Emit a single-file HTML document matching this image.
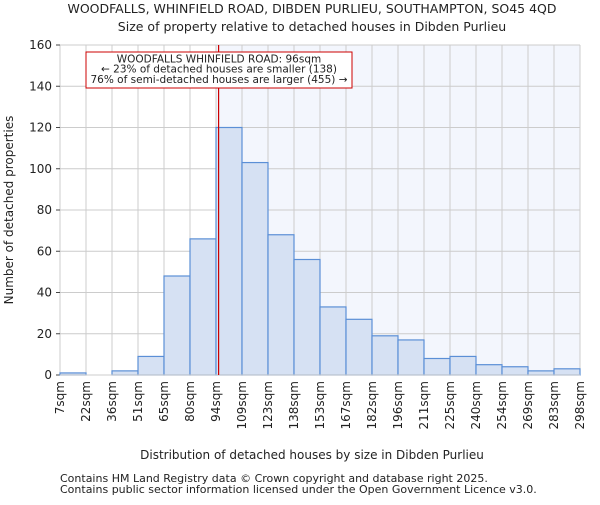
<!DOCTYPE html>
<html><head><meta charset="utf-8"><style>
body{margin:0;background:#fff;}
svg text{font-family:"DejaVu Sans","Liberation Sans",sans-serif;fill:#222;}
</style></head><body>
<svg id="chart" width="600" height="500">
<text x="312" y="13" font-size="12.5" text-anchor="middle">WOODFALLS, WHINFIELD ROAD, DIBDEN PURLIEU, SOUTHAMPTON, SO45 4QD</text>
<text x="312" y="31" font-size="12.5" text-anchor="middle">Size of property relative to detached houses in Dibden Purlieu</text>
<g id="plot"></g>
<text x="312" y="459" font-size="12" text-anchor="middle">Distribution of detached houses by size in Dibden Purlieu</text>
<text transform="translate(13,210) rotate(-90)" font-size="12" text-anchor="middle">Number of detached properties</text>
<text x="60" y="482" font-size="11" fill="#444">Contains HM Land Registry data © Crown copyright and database right 2025.</text>
<text x="60" y="493" font-size="11" fill="#444">Contains public sector information licensed under the Open Government Licence v3.0.</text>
</svg>
<script>
const binLabels=["7sqm","22sqm","36sqm","51sqm","65sqm","80sqm","94sqm","109sqm","123sqm","138sqm","153sqm","167sqm","182sqm","196sqm","211sqm","225sqm","240sqm","254sqm","269sqm","283sqm","298sqm"];
const counts=[1,0,2,9,48,66,120,103,68,56,33,27,19,17,8,9,5,4,2,3];
const yTicks=[0,20,40,60,80,100,120,140,160];
const subjectBin=6.1;
const highlightFrom=6;

const NS="http://www.w3.org/2000/svg";
const g=document.getElementById('plot');
const L=60,R=580,T=45,B=375,yMax=160;
const bw=(R-L)/counts.length;
const x=i=>L+i*bw;
const y=v=>B-(v/yMax)*(B-T);
function mk(tag,attrs){const e=document.createElementNS(NS,tag);for(const k in attrs)e.setAttribute(k,attrs[k]);g.appendChild(e);return e;}

let hl=mk('rect',{x:x(highlightFrom),y:T,width:R-x(highlightFrom),height:B-T,fill:'#f3f6fd'});


for(let i=0;i<=counts.length;i++){
  const l=mk('line',{x1:x(i),x2:x(i),y1:T,y2:B,stroke:'#cccccc','stroke-width':1});
  
  
}
yTicks.forEach(v=>{
  const l=mk('line',{x1:L,x2:R,y1:y(v),y2:y(v),stroke:'#cccccc','stroke-width':1});
  
  
  const tk=mk('line',{x1:L-4,x2:L,y1:y(v),y2:y(v),stroke:'#444'});
  
  
  const t=mk('text',{x:L-8,y:y(v)+4,'font-size':12,'text-anchor':'end'});
  t.textContent=v;
  
  
});
counts.forEach((c,i)=>{
  if(c<=0)return;
  const r=mk('rect',{x:x(i),y:y(c),width:bw,height:B-y(c),fill:'#d6e1f3',stroke:'#5b8fd6','stroke-width':1.2});
  
  
});
binLabels.forEach((lab,i)=>{
  const t=mk('text',{transform:`translate(${x(i)+4},381) rotate(-90)`,'font-size':12,'text-anchor':'end'});
  t.textContent=lab;
  
  
});
const ax=mk('line',{x1:L,x2:R,y1:B,y2:B,stroke:'#cccccc'});


const rl=mk('line',{x1:x(subjectBin),x2:x(subjectBin),y1:T,y2:B,stroke:'#cc0000','stroke-width':1.2});


const box=mk('rect',{x:86,y:52,width:266,height:36,fill:'#fff',stroke:'#cc0000','stroke-width':1});


["WOODFALLS WHINFIELD ROAD: 96sqm","← 23% of detached houses are smaller (138)","76% of semi-detached houses are larger (455) →"].forEach((s,k)=>{
  const t=mk('text',{x:219,y:62.5+k*10.2,'font-size':10.5,'text-anchor':'middle'});
  t.textContent=s;
  
  
});
</script>
</body></html>
